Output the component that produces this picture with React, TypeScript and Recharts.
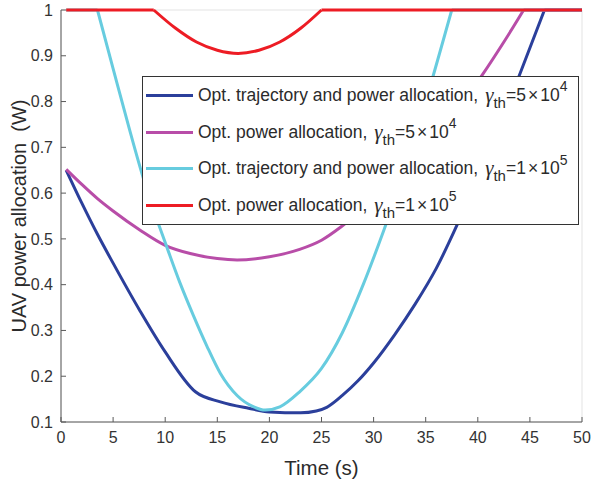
import React from 'react';
import { LineChart, Line, XAxis, YAxis, CartesianGrid } from 'recharts';

// time (s) / power (W) samples
const blueT = [0.5, 2, 3.5, 5, 7.6, 10, 12.9, 15.3, 18, 20, 23, 24.5, 25.5, 27, 28.5, 30, 32, 34, 36, 38, 40, 42, 44, 46.4, 50];
const blueV = [0.65, 0.578, 0.51, 0.447, 0.342, 0.253, 0.166, 0.144, 0.13, 0.122, 0.12, 0.124, 0.132, 0.158, 0.19, 0.229, 0.29, 0.358, 0.435, 0.53, 0.635, 0.745, 0.858, 1, 1];

const magentaT = [0.5, 2, 3.5, 5, 7.6, 10, 12.4, 15, 16.9, 20, 22.9, 25, 27.1, 30, 33, 36, 38, 40.4, 42.5, 44.4, 50];
const magentaV = [0.652, 0.619, 0.588, 0.561, 0.519, 0.486, 0.468, 0.457, 0.454, 0.461, 0.477, 0.497, 0.53, 0.585, 0.65, 0.725, 0.78, 0.857, 0.93, 1, 1];

const cyanT = [0.5, 3.5, 5, 6.5, 8, 9.4, 10, 11.4, 12.7, 14, 15.3, 16.9, 18.5, 19.6, 21, 22.9, 25, 27, 29, 31, 33, 35, 37.5, 50];
const cyanV = [1, 1, 0.872, 0.745, 0.625, 0.53, 0.492, 0.405, 0.333, 0.266, 0.206, 0.158, 0.133, 0.126, 0.133, 0.166, 0.217, 0.295, 0.4, 0.52, 0.65, 0.8, 1, 1];

const redT = [0.5, 8.9, 11, 13, 15, 17, 19, 21, 23, 25, 50];
const redV = [1, 1, 0.96, 0.93, 0.912, 0.905, 0.912, 0.93, 0.96, 1, 1];

const xTicks = [0, 5, 10, 15, 20, 25, 30, 35, 40, 45, 50];
const yTicks = [0.1, 0.2, 0.3, 0.4, 0.5, 0.6, 0.7, 0.8, 0.9, 1];

type Pt = { t: number; v: number };

// split a series into the saturated (v = 1) straight pieces and the curved middle,
// so the curve meets the 1 W cap with a corner like the original
const splitSeries = (ts: number[], vs: number[]) => {
  const pts: Pt[] = ts.map((t, i) => ({ t, v: vs[i] }));
  const first = vs.findIndex((v) => v < 1);
  let last = -1;
  vs.forEach((v, i) => { if (v < 1) last = i; });
  const a = Math.max(first - 1, 0);
  const b = Math.min(last + 1, pts.length - 1);
  return [
    { key: 'h', type: 'linear', data: pts.slice(0, a + 1) },
    { key: 'c', type: 'monotone', data: pts.slice(a, b + 1) },
    { key: 't', type: 'linear', data: pts.slice(b) },
  ].filter((p) => p.data.length > 1);
};

const series = [
  { name: 'blue', color: '#2B3F9B', parts: splitSeries(blueT, blueV), label: 'Opt. trajectory and power allocation,', mant: '5', exp: '4' },
  { name: 'magenta', color: '#B84DA8', parts: splitSeries(magentaT, magentaV), label: 'Opt. power allocation,', mant: '5', exp: '4' },
  { name: 'cyan', color: '#67CCDF', parts: splitSeries(cyanT, cyanV), label: 'Opt. trajectory and power allocation,', mant: '1', exp: '5' },
  { name: 'red', color: '#ED1C24', parts: splitSeries(redT, redV), label: 'Opt. power allocation,', mant: '1', exp: '5' },
];

const font = '"Liberation Sans", Arial, Helvetica, sans-serif';
const axisColor = '#5a5a5a';
const textColor = '#2b2b2b';
const tickStyle = { fontSize: 16, fill: '#333', fontFamily: font };

const LegendBox = () => (
  <div
    style={{
      position: 'absolute',
      left: 142,
      top: 76,
      width: 437,
      height: 149,
      background: '#fff',
      border: '1px solid #333',
      boxSizing: 'border-box',
      fontFamily: font,
      fontSize: 17.5,
      color: textColor,
    }}
  >
    {series.map((s) => (
      <div key={s.name} style={{ display: 'flex', alignItems: 'center', height: 36.7, whiteSpace: 'nowrap' }}>
        <div style={{ width: 47, height: 3, background: s.color, marginLeft: 3, marginRight: 5 }} />
        <span>{s.label}</span>
        <span style={{ fontFamily: '"Liberation Serif", serif', fontStyle: 'italic', fontSize: 21, marginLeft: 7 }}>γ</span>
        <span style={{ fontSize: 15, position: 'relative', top: 7 }}>th</span>
        <span>={s.mant}</span>
        <span style={{ margin: '0 2px' }}>×</span>
        <span>10</span>
        <span style={{ fontSize: 14, position: 'relative', top: -9 }}>{s.exp}</span>
      </div>
    ))}
  </div>
);

export default function App() {
  return (
    <div style={{ position: 'absolute', left: 0, top: 0, width: 591, height: 479, background: '#fff' }}>
      <LineChart width={591} height={479} margin={{ top: 10, right: 9, bottom: 0, left: 0 }}>
        <CartesianGrid stroke="#e3e3e3" strokeWidth={1} />
        <XAxis
          xAxisId="b"
          type="number"
          dataKey="t"
          domain={[0, 50]}
          ticks={xTicks}
          orientation="bottom"
          height={57}
          tickSize={-5}
          tickMargin={15}
          stroke={axisColor}
          tick={tickStyle}
          label={{ value: 'Time (s)', position: 'insideBottom', offset: 4, style: { fontSize: 20.5, fill: textColor, fontFamily: font } }}
        />
        <XAxis
          xAxisId="t"
          type="number"
          dataKey="t"
          domain={[0, 50]}
          ticks={xTicks}
          orientation="top"
          height={0}
          tickSize={-5}
          tickFormatter={() => ''}
          stroke={axisColor}
        />
        <YAxis
          yAxisId="l"
          type="number"
          dataKey="v"
          domain={[0.1, 1]}
          ticks={yTicks}
          width={61}
          tickSize={-5}
          tickMargin={13}
          stroke={axisColor}
          tick={tickStyle}
          label={{ value: 'UAV power allocation\u00a0\u00a0(W)', angle: -90, position: 'insideLeft', offset: 19, style: { fontSize: 20, fill: textColor, fontFamily: font, textAnchor: 'middle' } }}
        />
        <YAxis
          yAxisId="r"
          type="number"
          dataKey="v"
          orientation="right"
          domain={[0.1, 1]}
          ticks={yTicks}
          width={0}
          tickSize={-5}
          tickFormatter={() => ''}
          stroke={axisColor}
        />
        {series.flatMap((s) =>
          s.parts.map((p) => (
            <Line
              key={s.name + '-' + p.key}
              xAxisId="b"
              yAxisId="l"
              data={p.data}
              dataKey="v"
              type={p.type as 'linear' | 'monotone'}
              stroke={s.color}
              strokeWidth={3}
              dot={false}
              activeDot={false}
              isAnimationActive={false}
            />
          ))
        )}
      </LineChart>
      <LegendBox />
    </div>
  );
}
